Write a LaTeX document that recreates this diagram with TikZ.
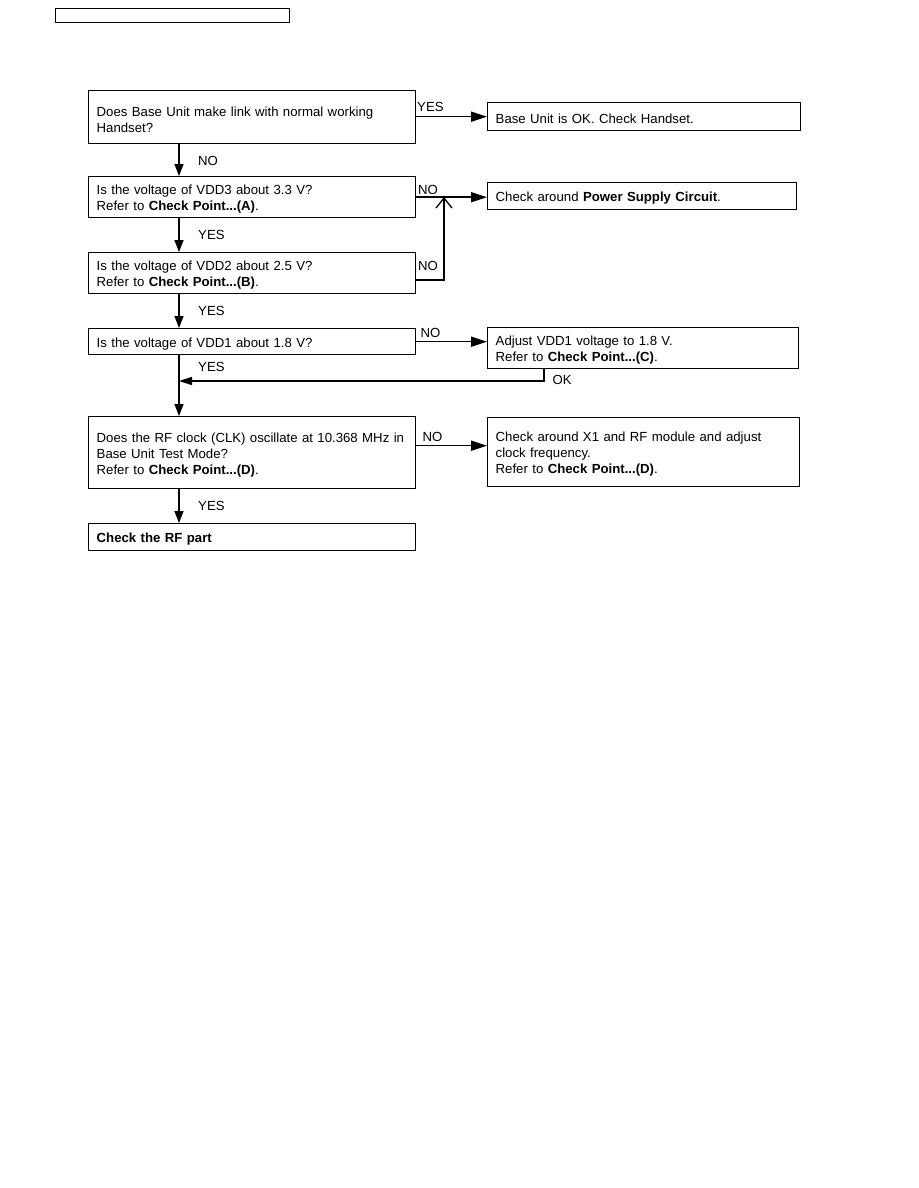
\documentclass[tikz,border=0pt]{standalone}
\usepackage{fontspec}
\setmainfont{Liberation Sans}
\usetikzlibrary{arrows.meta,calc}
\begin{document}
\begin{tikzpicture}[x=1pt,y=-1pt,
  txt/.style={font=\fontsize{13.2}{16}\selectfont},
  box/.style={txt,draw,line width=1.4pt,anchor=north west,align=left,inner xsep=8pt,inner ysep=0pt,
    execute at begin node={\rule{0pt}{14pt}}},
  lbl/.style={txt,anchor=base west,inner sep=0pt},
  conn/.style={line width=1.5pt},
  harr/.style={conn,-{Triangle[length=16pt,width=10pt]}},
  varr/.style={conn,-{Triangle[length=12pt,width=9pt]}},
  larr/.style={conn,-{Triangle[length=13pt,width=8pt]}},
  oarr/.style={conn,-{Straight Barb[length=10pt,width=16pt,line width=1.3pt]}}]
\useasboundingbox[fill=white] (0,0) rectangle (918,1188);

% header box
\node[draw,line width=1.2pt,anchor=north west,minimum width=234pt,minimum height=14pt,inner sep=0pt] (header) at (55,8) {};

% boxes
\node[box,text width=311pt,minimum height=53pt] (q1) at (88,90)
  {Does Base Unit make link with normal working\\Handset?};
\node[box,text width=297pt,minimum height=28pt] (r1) at (487,102)
  {Base Unit is OK. Check Handset.};
\node[box,text width=311pt,minimum height=41pt] (q2) at (88,176)
  {Is the voltage of VDD3 about 3.3 V?\\Refer to \textbf{Check Point...(A)}.};
\node[box,text width=293pt,minimum height=27pt] (r2) at (487,182)
  {Check around \textbf{Power Supply Circuit}.};
\node[box,text width=311pt,minimum height=41pt] (q3) at (88,252)
  {Is the voltage of VDD2 about 2.5 V?\\Refer to \textbf{Check Point...(B)}.};
\node[box,text width=311pt,minimum height=26pt] (q4) at (88,328)
  {Is the voltage of VDD1 about 1.8 V?};
\node[box,text width=295pt,minimum height=41pt] (r4) at (487,327)
  {Adjust VDD1 voltage to 1.8 V.\\Refer to \textbf{Check Point...(C)}.};
\node[box,text width=311pt,minimum height=72pt] (q5) at (88,416)
  {Does the RF clock (CLK) oscillate at 10.368 MHz in\\Base Unit Test Mode?\\Refer to \textbf{Check Point...(D)}.};
\node[box,text width=296pt,minimum height=69pt] (r5) at (487,417)
  {Check around X1 and RF module and adjust\\clock frequency.\\Refer to \textbf{Check Point...(D)}.};
\node[box,text width=311pt,minimum height=27pt] (q6) at (88,523)
  {\textbf{Check the RF part}};

% helper coordinates
\coordinate (col) at (179,0);
\coordinate (join) at (444,197);
\coordinate (okx) at (544,0);
\coordinate (okend) at (179,381);

% connectors
\draw[harr] (q1.east |- r1.west) -- (r1.west);
\draw[varr] (q1.south -| col) -- (q2.north -| col);
\draw[harr] (q2.east) -- (q2.east -| r2.west);
\draw[oarr] ([yshift=-7pt]q3.east) -| (join);
\draw[varr] (q2.south -| col) -- (q3.north -| col);
\draw[varr] (q3.south -| col) -- (q4.north -| col);
\draw[harr] (q4.east) -- (q4.east -| r4.west);
\draw[larr] (r4.south -| okx) |- (okend);
\draw[varr] (q4.south -| col) -- (q5.north -| col);
\draw[harr] ([yshift=7pt]q5.east) -- ([yshift=7pt]q5.east -| r5.west);
\draw[varr] (q5.south -| col) -- (q6.north -| col);

% labels
\node[lbl] (l1) at (417,111.5) {YES};
\node[lbl] (l2) at (198,165) {NO};
\node[lbl] (l3) at (418,194) {NO};
\node[lbl] (l4) at (198,239) {YES};
\node[lbl] (l5) at (418,270) {NO};
\node[lbl] (l6) at (198,315) {YES};
\node[lbl] (l7) at (420.5,337) {NO};
\node[lbl] (l8) at (198,371.5) {YES};
\node[lbl] (l9) at (552.5,384) {OK};
\node[lbl] (l10) at (422.5,441) {NO};
\node[lbl] (l11) at (198,510) {YES};
\end{tikzpicture}
\end{document}
